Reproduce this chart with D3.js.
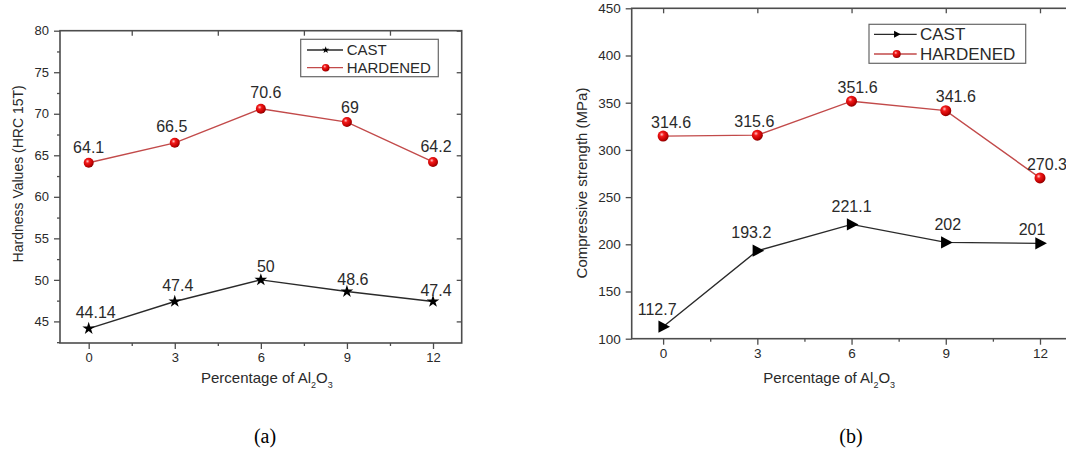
<!DOCTYPE html>
<html>
<head>
<meta charset="utf-8">
<script src="https://cdn.jsdelivr.net/npm/d3@7"></script>
<style>
  html, body { margin: 0; padding: 0; background: #fff; }
  svg { display: block; font-family: "Liberation Sans", Arial, sans-serif; }
</style>
</head>
<body>
<svg id="fig" width="1066" height="455"></svg>
<script>
// Al2O3 content (%) of the composites
const alumina = [0, 3, 6, 9, 12];
const xTickValues = [0, 3, 6, 9, 12];
const xMinorValues = [1.5, 4.5, 7.5, 10.5];

// (a) hardness, HRC 15T
const hardnessCast = [44.14, 47.4, 50, 48.6, 47.4];
const hardnessHardened = [64.1, 66.5, 70.6, 69, 64.2];
const hardnessTicks = [45, 50, 55, 60, 65, 70, 75, 80];
const hardnessMinor = [42.5, 47.5, 52.5, 57.5, 62.5, 67.5, 72.5, 77.5];

// (b) compressive strength, MPa
const strengthCast = [112.7, 193.2, 221.1, 202, 201];
const strengthHardened = [314.6, 315.6, 351.6, 341.6, 270.3];
const strengthTicks = [100, 150, 200, 250, 300, 350, 400, 450];

const seriesNames = ["CAST", "HARDENED"];

// small label nudges [dx, dy] relative to the marker, so values do not overlap the lines
const hardnessCastNudge = [[7, -16], [3, -16], [5, -13], [6, -12], [3, -11]];
const hardnessHardenedNudge = [[0, -15], [-3, -16], [5, -16], [3, -15], [3, -16]];
const strengthCastNudge = [[-6, -17], [-6, -18], [0, -18], [2, -18], [-8, -14]];
const strengthHardenedNudge = [[8, -14], [-3, -14], [6, -14], [10, -14], [7, -14]];

const svg = d3.select("#fig");
const defs = svg.append("defs");

// shaded red ball used for the hardened series
const grad = defs.append("radialGradient").attr("id", "ball")
  .attr("cx", "38%").attr("cy", "35%").attr("r", "65%");
grad.append("stop").attr("offset", "0%").attr("stop-color", "#ffc8c8");
grad.append("stop").attr("offset", "30%").attr("stop-color", "#f21a1a");
grad.append("stop").attr("offset", "80%").attr("stop-color", "#c00000");
grad.append("stop").attr("offset", "100%").attr("stop-color", "#8a0000");

// right-pointing triangle marker
const triRight = {
  draw(ctx, size) {
    const s = Math.sqrt(size);
    ctx.moveTo(-s * 0.42, -s * 0.55);
    ctx.lineTo(s * 0.62, 0);
    ctx.lineTo(-s * 0.42, s * 0.55);
    ctx.closePath();
  }
};

const AXIS = "#4d4d4d";
const TEXT = "#2a2a2a";
const RED_LINE = "#c24a4a";
const BLACK_LINE = "#2a2a2a";

function styleAxis(sel) {
  sel.select(".domain").remove();
  sel.selectAll(".tick line").attr("stroke", AXIS).attr("stroke-width", 1.3);
  sel.selectAll(".tick text").attr("fill", TEXT);
}

function drawPanel(p) {
  const g = svg.append("g");
  const x = d3.scaleLinear().domain([-1, 13]).range([p.left, p.right]);
  const y = d3.scaleLinear().domain(p.yDomain).range([p.bottom, p.top]);

  // bottom axis: labelled majors + minor ticks
  g.append("g").attr("transform", `translate(0,${p.bottom})`)
    .call(d3.axisBottom(x).tickValues(xTickValues).tickSize(6).tickPadding(4).tickFormat(d3.format("d")))
    .call(styleAxis)
    .call(s => s.selectAll("text").attr("font-size", p.tickFont).attr("font-family", "Liberation Sans, Arial, sans-serif"));
  g.append("g").attr("transform", `translate(0,${p.bottom})`)
    .call(d3.axisBottom(x).tickValues(xMinorValues).tickSize(3).tickFormat(""))
    .call(styleAxis);

  // top axis ticks point inward
  g.append("g").attr("transform", `translate(0,${p.top})`)
    .call(d3.axisTop(x).tickValues(p.topTicks).tickSize(-5).tickFormat(""))
    .call(styleAxis);

  // left axis
  g.append("g").attr("transform", `translate(${p.left},0)`)
    .call(d3.axisLeft(y).tickValues(p.yTicks).tickSize(6).tickPadding(5).tickFormat(d3.format("d")))
    .call(styleAxis)
    .call(s => s.selectAll("text").attr("font-size", p.tickFont).attr("font-family", "Liberation Sans, Arial, sans-serif"));
  if (p.yMinor) {
    g.append("g").attr("transform", `translate(${p.left},0)`)
      .call(d3.axisLeft(y).tickValues(p.yMinor.filter(v => v >= p.yDomain[0])).tickSize(3).tickFormat(""))
      .call(styleAxis);
  }

  // right axis ticks point inward
  g.append("g").attr("transform", `translate(${p.right},0)`)
    .call(d3.axisRight(y).tickValues(p.yTicks).tickSize(-5).tickFormat(""))
    .call(styleAxis);

  // frame
  g.append("rect")
    .attr("x", p.left).attr("y", p.top)
    .attr("width", p.right - p.left).attr("height", p.bottom - p.top)
    .attr("fill", "none").attr("stroke", AXIS).attr("stroke-width", 1.6);

  // axis titles
  g.append("text")
    .attr("transform", `translate(${p.yTitleX},${(p.top + p.bottom) / 2 + p.yTitleShift}) rotate(-90)`)
    .attr("text-anchor", "middle").attr("dy", "0.35em")
    .attr("font-size", p.yTitleFont).attr("fill", TEXT)
    .text(p.yTitle);

  const xt = g.append("text")
    .attr("x", p.xTitleX).attr("y", p.xTitleY)
    .attr("font-size", 15).attr("fill", TEXT);
  xt.append("tspan").text("Percentage of Al");
  xt.append("tspan").attr("dy", 5).attr("font-size", 9).text("2");
  xt.append("tspan").attr("dy", -5).text("O");
  xt.append("tspan").attr("dy", 5).attr("font-size", 9).text("3");

  const line = d3.line().x((d, i) => x(alumina[i])).y(d => y(d));

  // cast series
  g.append("path").datum(p.cast).attr("d", line)
    .attr("fill", "none").attr("stroke", BLACK_LINE).attr("stroke-width", 1.4);
  g.selectAll(".castMark").data(p.cast).join("path")
    .attr("transform", (d, i) => `translate(${x(alumina[i])},${y(d)})`)
    .attr("d", d3.symbol().type(p.castSymbol).size(p.castSize))
    .attr("fill", "#000");

  // hardened series
  g.append("path").datum(p.hardened).attr("d", line)
    .attr("fill", "none").attr("stroke", RED_LINE).attr("stroke-width", 1.4);
  g.selectAll(".hardMark").data(p.hardened).join("circle")
    .attr("cx", (d, i) => x(alumina[i])).attr("cy", d => y(d))
    .attr("r", p.ballR).attr("fill", "url(#ball)");

  // value labels
  const addLabels = (vals, nudge) => {
    g.selectAll(null).data(vals).join("text")
      .attr("x", (d, i) => x(alumina[i]) + nudge[i][0])
      .attr("y", (d, i) => y(d) + nudge[i][1])
      .attr("dy", "0.35em")
      .attr("text-anchor", "middle")
      .attr("font-size", 16).attr("fill", TEXT)
      .text(d => String(d));
  };
  addLabels(p.cast, p.castNudge);
  addLabels(p.hardened, p.hardNudge);

  // legend
  const L = p.legend;
  const lg = g.append("g");
  lg.append("rect").attr("x", L.x0).attr("y", L.y0)
    .attr("width", L.x1 - L.x0).attr("height", L.y1 - L.y0)
    .attr("fill", "#fff").attr("stroke", "#666").attr("stroke-width", 1.2);
  seriesNames.forEach((name, k) => {
    const yy = L.rows[k];
    lg.append("line").attr("x1", L.lineX0).attr("x2", L.lineX1)
      .attr("y1", yy).attr("y2", yy)
      .attr("stroke", k === 0 ? BLACK_LINE : RED_LINE).attr("stroke-width", 1.3);
    if (k === 0) {
      lg.append("path").attr("transform", `translate(${L.markX},${yy})`)
        .attr("d", d3.symbol().type(p.castSymbol).size(L.symSize)).attr("fill", "#000");
    } else {
      lg.append("circle").attr("cx", L.markX).attr("cy", yy).attr("r", L.ballR).attr("fill", "url(#ball)");
    }
    lg.append("text").attr("x", L.textX).attr("y", yy).attr("dy", "0.35em")
      .attr("font-size", L.font).attr("fill", TEXT).text(name);
  });

  // panel caption
  svg.append("text")
    .attr("x", p.captionX).attr("y", 436).attr("dy", "0.35em")
    .attr("text-anchor", "middle")
    .attr("font-family", "Liberation Serif, Times New Roman, serif")
    .attr("font-size", 20).attr("fill", "#000")
    .text(p.caption);
}

drawPanel({
  left: 60, right: 461.7, top: 30.7, bottom: 343,
  yDomain: [42.4, 80], yTicks: hardnessTicks, yMinor: hardnessMinor,
  topTicks: xMinorValues, tickFont: 13,
  yTitle: "Hardness Values (HRC 15T)", yTitleX: 18.5, yTitleShift: -13, yTitleFont: 14,
  xTitleX: 201, xTitleY: 383,
  cast: hardnessCast, hardened: hardnessHardened,
  castNudge: hardnessCastNudge, hardNudge: hardnessHardenedNudge,
  castSymbol: d3.symbolStar, castSize: 50, ballR: 5,
  legend: { x0: 300.7, x1: 438.3, y0: 39.3, y1: 76.7, rows: [50, 67.7],
            lineX0: 307, lineX1: 343, markX: 325.7, textX: 346.7, font: 15, symSize: 16, ballR: 3.8 },
  caption: "(a)", captionX: 265
});

drawPanel({
  left: 631.7, right: 1071.4, top: 8.3, bottom: 338.7,
  yDomain: [100, 450], yTicks: strengthTicks, yMinor: null,
  topTicks: xTickValues, tickFont: 13.5,
  yTitle: "Compressive strength (MPa)", yTitleX: 582, yTitleShift: 9.5, yTitleFont: 15,
  xTitleX: 763.3, xTitleY: 383,
  cast: strengthCast, hardened: strengthHardened,
  castNudge: strengthCastNudge, hardNudge: strengthHardenedNudge,
  castSymbol: triRight, castSize: 125, ballR: 5.5,
  legend: { x0: 869, x1: 1025.7, y0: 24.3, y1: 63.3, rows: [34.3, 54],
            lineX0: 874, lineX1: 916.7, markX: 896.7, textX: 920, font: 17, symSize: 40, ballR: 4 },
  caption: "(b)", captionX: 851
});
</script>
</body>
</html>
